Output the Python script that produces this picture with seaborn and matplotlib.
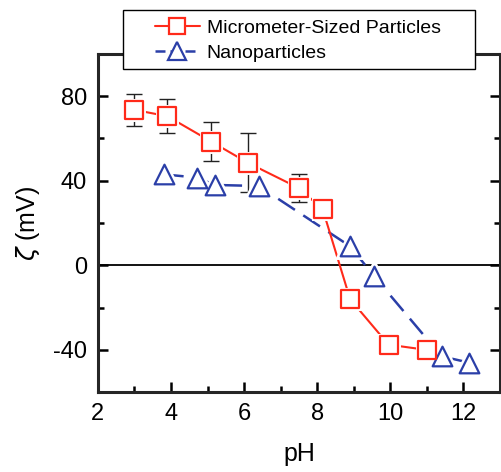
import pandas as pd
import numpy as np
import seaborn as sns
import matplotlib.pyplot as plt
from matplotlib.lines import Line2D
from matplotlib.patches import Rectangle

## Data
micro_ph = [3.0, 3.9, 5.1, 6.1, 7.5, 8.15, 8.9, 9.95, 11.0]
micro_zeta = [73.5, 70.5, 58.5, 48.5, 36.5, 26.5, -16, -37.5, -40]
micro_err = [7.7, 8.0, 9.3, 14.0, 6.5, 1.5, 0, 1.5, 1.0]

nano_ph = [3.8, 4.7, 5.2, 6.4, 8.9, 9.55, 11.4, 12.15]
nano_zeta = [43, 41.5, 38, 37.5, 9, -5, -43, -46]

micro = pd.DataFrame({"pH": micro_ph, "zeta": micro_zeta, "err": micro_err})
nano = pd.DataFrame({"pH": nano_ph, "zeta": nano_zeta})

sns.set_style("ticks")
plt.rcParams['font.family'] = ['Liberation Sans', 'DejaVu Sans']
plt.rcParams['axes.unicode_minus'] = False
plt.rcParams['text.color'] = 'black'
plt.rcParams['axes.labelcolor'] = 'black'
plt.rcParams['xtick.color'] = 'black'
plt.rcParams['ytick.color'] = 'black'

red = "#ff2a1a"
blue = "#2b3fa8"

fig = plt.figure(figsize=(5.02, 4.72), dpi=100)
ax = fig.add_axes([0.195, 0.169, 0.801, 0.717])

ax.axhline(0, color="black", lw=1.3, zorder=1)

# lines
sns.lineplot(data=nano, x="pH", y="zeta", ax=ax, color=blue, lw=1.8, zorder=2)
ax.lines[-1].set_dashes([8, 4])
sns.lineplot(data=micro, x="pH", y="zeta", ax=ax, color=red, lw=1.5, zorder=2)

# error bars
ax.errorbar(micro.pH, micro.zeta, yerr=micro.err, fmt="none", ecolor="#222222",
            elinewidth=1, capsize=6, capthick=1, zorder=3)

# white halos so the lines stop short of the markers
ax.plot(nano.pH, nano.zeta, ls="none", marker="^", ms=14, mfc="white",
        mec="white", mew=5, zorder=4)
ax.plot(micro.pH, micro.zeta, ls="none", marker="s", ms=12, mfc="white",
        mec="white", mew=5, zorder=4)

sns.scatterplot(data=nano, x="pH", y="zeta", ax=ax, marker="^", s=200,
                facecolor="white", edgecolor=blue, linewidth=1.6, zorder=5)
sns.scatterplot(data=micro, x="pH", y="zeta", ax=ax, marker="s", s=150,
                facecolor="white", edgecolor=red, linewidth=1.6, zorder=6)

ax.set_xlim(2, 13)
ax.set_ylim(-60, 100)
ax.set_xticks([2, 4, 6, 8, 10, 12])
ax.set_xticks(np.arange(3, 13, 2), minor=True)
ax.set_yticks([-40, 0, 40, 80])
ax.set_yticks([-60, -20, 20, 60, 100], minor=True)
ax.tick_params(which="both", direction="in", top=True, right=True, width=1.8,
               labelsize=17, pad=8)
ax.tick_params(which="major", length=7)
ax.tick_params(which="minor", length=4)
for sp in ax.spines.values():
    sp.set_linewidth(2.2)

ax.set_xlabel("pH", fontsize=18, labelpad=12)
ax.set_ylabel(r"$\zeta$ (mV)", fontsize=18, labelpad=8)

# legend box sits over the top spine
box = Rectangle((123 / 502, 1 - 69 / 472), 352 / 502, 59 / 472,
                transform=fig.transFigure, facecolor="white", edgecolor="black",
                lw=1.0, zorder=9)
fig.add_artist(box)

handles = [
    Line2D([], [], color=red, lw=1.5, marker="s", ms=11, mfc="white", mec=red, mew=1.6),
    Line2D([], [], color=blue, lw=1.8, ls=(0, (4, 2)), marker="^", ms=13, mfc="white", mec=blue, mew=1.6),
]
leg = fig.legend(handles, ["Micrometer-Sized Particles", "Nanoparticles"],
                 loc="upper left", bbox_to_anchor=(155 / 502, 1 - 19 / 472),
                 fontsize=14, frameon=False, handlelength=2.3, borderpad=0,
                 labelspacing=0.4, handletextpad=0.35, borderaxespad=0)
leg.set_zorder(10)

fig.savefig("out.png", dpi=100)
